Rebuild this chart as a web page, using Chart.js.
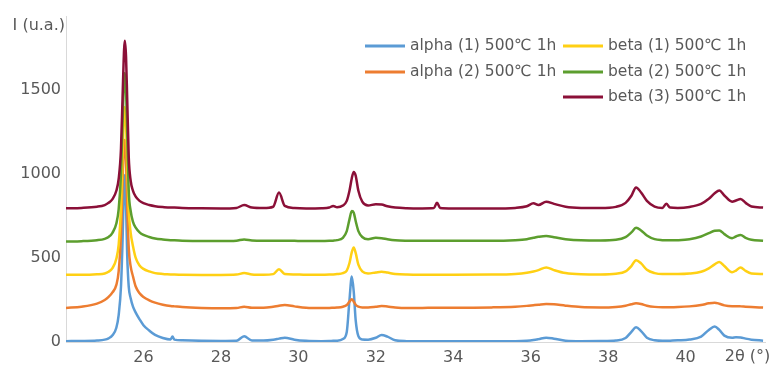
<!DOCTYPE html>
<html>
<head>
<meta charset="utf-8">
<script src="https://cdn.jsdelivr.net/npm/chart.js@4"></script>
<style>
  body { margin: 0; background: #fff; }
</style>
</head>
<body>
<canvas id="xrd-chart" width="774" height="367"></canvas>
<script>
// 2θ positions (degrees) shared by every pattern
const twoTheta = [
  24.0, 24.4, 24.8, 25.0, 25.1, 25.2, 25.3, 25.36, 25.42, 25.46,
  25.5, 25.52, 25.55, 25.58, 25.62, 25.67, 25.73, 25.8, 25.9, 26.0,
  26.15, 26.3, 26.5, 26.7, 26.75, 26.8, 27.0, 27.5, 28.0, 28.4,
  28.6, 28.8, 29.1, 29.35, 29.5, 29.65, 29.9, 30.2, 30.6, 30.8,
  30.9, 31.0, 31.15, 31.25, 31.32, 31.38, 31.43, 31.48, 31.55, 31.65,
  31.8, 32.0, 32.15, 32.3, 32.5, 32.8, 33.2, 33.5, 33.58, 33.66,
  34.0, 35.0, 35.6, 35.9, 36.07, 36.2, 36.4, 36.6, 36.9, 37.3,
  37.8, 38.2, 38.45, 38.6, 38.72, 38.85, 39.0, 39.2, 39.4, 39.5,
  39.6, 39.8, 40.1, 40.4, 40.6, 40.75, 40.87, 41.0, 41.2, 41.3,
  41.42, 41.55, 41.7, 42.0
];

const alpha1 = [
  5, 6, 9, 14, 22, 40, 85, 160, 330, 600,
  940, 994, 820, 520, 330, 260, 210, 175, 135, 100,
  68, 42, 24, 15, 32, 14, 10, 7, 6, 7,
  34, 9, 9, 14, 20, 26, 14, 7, 5, 6,
  7, 8, 18, 60, 250, 390, 300, 130, 35, 15,
  14, 25, 42, 32, 10, 5, 4, 4, 4, 4,
  4, 4, 5, 8, 12, 17, 26, 20, 8, 5,
  6, 9, 24, 60, 88, 65, 26, 10, 7, 7,
  8, 10, 15, 32, 72, 92, 72, 38, 25, 28,
  27, 20, 14, 8
];

const alpha2 = [
  203, 210, 228, 250, 268, 295, 340, 420, 640, 950,
  1180, 1202, 1080, 820, 560, 450, 390, 330, 290, 268,
  248, 234, 222, 214, 213, 212, 208, 203, 201, 202,
  210, 204, 204, 210, 216, 220, 212, 204, 202, 203,
  204, 205, 210, 220, 240, 255, 240, 222, 210, 206,
  206, 210, 214, 211, 206, 203, 203, 204, 204, 204,
  204, 206, 210, 215, 219, 222, 226, 224, 216, 208,
  206, 209, 216, 225, 230, 226, 216, 209, 207, 207,
  207, 208, 212, 220, 230, 234, 228, 218, 213, 213,
  212, 210, 208, 205
];

const beta1 = [
  400, 400, 403, 408, 418, 440, 495, 580, 800, 1100,
  1360, 1399, 1300, 1060, 780, 650, 570, 500, 455, 435,
  420, 410, 405, 402, 401, 401, 400, 399, 399, 401,
  410, 402, 400, 404, 433, 405, 402, 400, 400, 401,
  402, 404, 410, 425, 470, 535, 563, 530, 460, 420,
  408, 414, 418, 413, 405, 401, 400, 400, 400, 400,
  400, 401, 405, 412, 420, 428, 444, 428, 410, 403,
  402, 406, 420, 452, 487, 468, 430, 410, 404, 404,
  404, 404, 407, 418, 438, 462, 476, 452, 415, 425,
  444, 423, 408, 405
];

const beta2 = [
  598, 600, 606, 614, 625, 650, 705, 790, 1000, 1300,
  1560, 1601, 1500, 1250, 900, 780, 715, 680, 652, 637,
  625, 616, 610, 606, 605, 605, 603, 601, 601, 603,
  610, 604, 602, 603, 603, 603, 602, 601, 601, 602,
  603, 606, 620, 660, 730, 780, 770, 720, 660, 625,
  612, 620, 618, 612, 606, 603, 602, 602, 602, 602,
  602, 602, 606, 612, 620, 626, 631, 624, 612, 605,
  604, 608, 624, 652, 680, 664, 634, 612, 606, 605,
  605, 606, 612, 628, 648, 662, 664, 642, 618, 628,
  637, 620, 608, 603
];

const beta3 = [
  796, 798, 805, 815, 828, 850, 900, 970, 1150, 1450,
  1740, 1792, 1700, 1450, 1100, 960, 900, 865, 840, 826,
  815, 808, 803, 800, 800, 800, 798, 796, 795, 798,
  815, 800, 797, 805, 889, 810, 797, 795, 796, 800,
  810, 802, 812, 840, 900, 975, 1012, 990, 900, 835,
  812, 820, 818, 808, 800, 796, 795, 797, 829, 798,
  795, 794, 798, 808, 825, 815, 835, 822, 805, 798,
  797, 804, 828, 870, 920, 890, 840, 806, 798, 822,
  800, 798, 804, 822, 852, 885, 902, 872, 835, 842,
  851, 828, 806, 800
];

const seriesLabels = [
  'alpha (1) 500℃ 1h',
  'alpha (2) 500℃ 1h',
  'beta (1) 500℃ 1h',
  'beta (2) 500℃ 1h',
  'beta (3) 500℃ 1h'
];
const seriesColors = ['#5B9BD5', '#ED7D31', '#FFD014', '#5C9E2E', '#8B1038'];
const seriesValues = [alpha1, alpha2, beta1, beta2, beta3];

const xTicks = [26, 28, 30, 32, 34, 36, 38, 40];
const yTicks = [0, 500, 1000, 1500];
const xTitle = '2θ (°)';
const yTitle = 'I (u.a.)';

const textColor = '#595959';
const axisColor = '#D9D9D9';

// legend (two columns, drawn inside the plot) and the axis titles
const legendAndTitles = {
  id: 'legendAndTitles',
  afterDraw(chart) {
    const ctx = chart.ctx;
    const slots = [[365, 46], [365, 72], [563, 46], [563, 72], [563, 97]];
    ctx.save();
    ctx.font = '15.5px "DejaVu Sans"';
    ctx.textBaseline = 'middle';
    chart.data.datasets.forEach((ds, i) => {
      const [x, y] = slots[i];
      ctx.strokeStyle = ds.borderColor;
      ctx.lineWidth = 3;
      ctx.beginPath();
      ctx.moveTo(x, y);
      ctx.lineTo(x + 40, y);
      ctx.stroke();
      ctx.fillStyle = textColor;
      ctx.textAlign = 'left';
      ctx.fillText(ds.label, x + 45, y);
    });

    ctx.font = '16px "DejaVu Sans"';
    ctx.fillStyle = textColor;
    ctx.textAlign = 'right';
    ctx.fillText(yTitle, chart.chartArea.left - 1, 26);
    ctx.textAlign = 'center';
    ctx.fillText(xTitle, chart.scales.x.getPixelForValue(41.6), 357);
    ctx.restore();
  }
};

const xrdCtx = document.getElementById('xrd-chart');

new Chart(xrdCtx, {
  type: 'line',
  data: {
    datasets: seriesValues.map((values, i) => ({
      label: seriesLabels[i],
      data: twoTheta.map((x, j) => ({ x: x, y: values[j] })),
      borderColor: seriesColors[i],
      backgroundColor: seriesColors[i],
      borderWidth: 2.5,
      pointRadius: 0,
      fill: false,
      cubicInterpolationMode: 'monotone',
      order: seriesValues.length - i
    }))
  },
  options: {
    responsive: false,
    animation: false,
    layout: {
      padding: { top: 16, right: 9, left: 0, bottom: 0 }
    },
    scales: {
      x: {
        type: 'linear',
        min: 24,
        max: 42.05,
        afterBuildTicks: (scale) => {
          scale.ticks = xTicks.map(v => ({ value: v }));
        },
        afterFit: (scale) => {
          scale.height = 25;
        },
        grid: { display: false, drawTicks: false },
        border: { display: true, color: axisColor, width: 1 },
        ticks: {
          padding: 6,
          color: textColor,
          font: { size: 16, family: 'DejaVu Sans' },
          callback: (value) => String(value)
        }
      },
      y: {
        min: 0,
        max: 1940,
        afterBuildTicks: (scale) => {
          scale.ticks = yTicks.map(v => ({ value: v }));
        },
        afterFit: (scale) => {
          scale.width = 66;
        },
        grid: { display: false, drawTicks: false },
        border: { display: true, color: axisColor, width: 1 },
        ticks: {
          padding: 5,
          color: textColor,
          font: { size: 16, family: 'DejaVu Sans' },
          callback: (value) => String(value)
        }
      }
    },
    plugins: {
      legend: { display: false },
      tooltip: { enabled: false }
    }
  },
  plugins: [legendAndTitles]
});
</script>
</body>
</html>
